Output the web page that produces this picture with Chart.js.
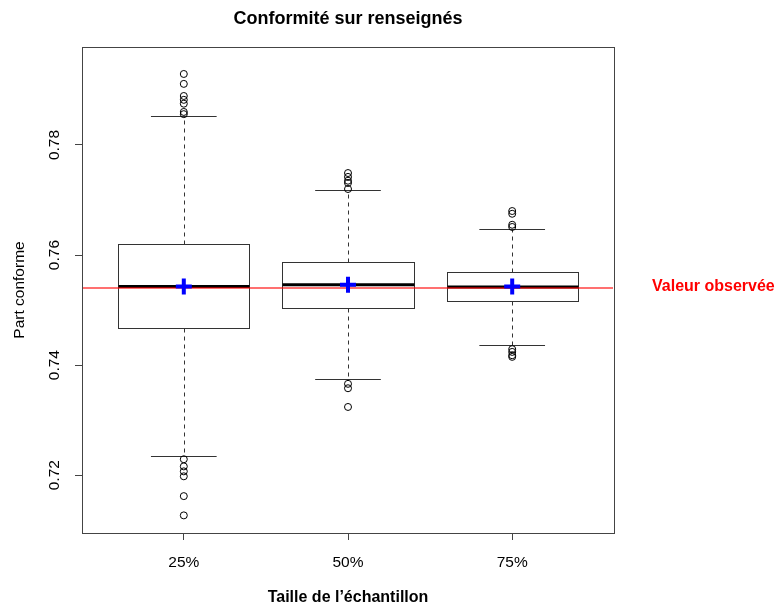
<!DOCTYPE html>
<html>
<head>
<meta charset="utf-8">
<script src="https://cdn.jsdelivr.net/npm/chart.js@4/dist/chart.umd.min.js"></script>
<style>
  body { margin: 0; background: #fff; }
  canvas { display: block; }
</style>
</head>
<body>
<canvas id="boxChart" width="778" height="605"></canvas>
<script>
// valeurs
var categories = ["25%", "50%", "75%"];
var q1 = [0.7467, 0.7504, 0.7516];
var medians = [0.7543, 0.7546, 0.7542];
var q3 = [0.7620, 0.7587, 0.7569];
var whiskerLow = [0.7235, 0.7375, 0.7436];
var whiskerHigh = [0.7853, 0.7718, 0.7647];
var means = [0.7543, 0.7546, 0.7543];
var outliers = [
  [0.7929, 0.7911, 0.7889, 0.7882, 0.7875, 0.7860, 0.7856, 0.7229, 0.7216, 0.7207, 0.7198, 0.7162, 0.7127],
  [0.7749, 0.7742, 0.7735, 0.7731, 0.7720, 0.7366, 0.7358, 0.7324],
  [0.7680, 0.7675, 0.7655, 0.7651, 0.7429, 0.7424, 0.7418, 0.7415]
];
var observed = 0.7542;
var yTicks = [0.72, 0.74, 0.76, 0.78];

var FONT = "'Liberation Sans', Arial, sans-serif";

var outlierPts = [];
outliers.forEach(function(list, i){
  list.forEach(function(v){ outlierPts.push({x: i + 1, y: v}); });
});
var meanPts = means.map(function(v, i){ return {x: i + 1, y: v}; });

var boxPlugin = {
  id: 'boxes',
  beforeDatasetsDraw: function(chart){
    var ctx = chart.ctx, xs = chart.scales.x, ys = chart.scales.y, a = chart.chartArea;
    ctx.save();
    for (var i = 0; i < categories.length; i++) {
      var c = xs.getPixelForValue(i + 1);
      var l = Math.round(xs.getPixelForValue(i + 1 - 0.4)) + 0.5;
      var r = Math.round(xs.getPixelForValue(i + 1 + 0.4)) + 0.5;
      var cl = xs.getPixelForValue(i + 1 - 0.2), cr = xs.getPixelForValue(i + 1 + 0.2);
      var cx = Math.round(c) + 0.5;
      var yq1 = Math.round(ys.getPixelForValue(q1[i])) + 0.5;
      var yq3 = Math.round(ys.getPixelForValue(q3[i])) + 0.5;
      var ylo = Math.round(ys.getPixelForValue(whiskerLow[i])) + 0.5;
      var yhi = Math.round(ys.getPixelForValue(whiskerHigh[i])) + 0.5;
      // moustaches
      ctx.strokeStyle = '#333';
      ctx.lineWidth = 1;
      ctx.setLineDash([4, 4]);
      ctx.beginPath();
      ctx.moveTo(cx, yq3); ctx.lineTo(cx, yhi);
      ctx.moveTo(cx, yq1); ctx.lineTo(cx, ylo);
      ctx.stroke();
      ctx.setLineDash([]);
      ctx.beginPath();
      ctx.moveTo(cl, yhi); ctx.lineTo(cr, yhi);
      ctx.moveTo(cl, ylo); ctx.lineTo(cr, ylo);
      ctx.stroke();
      // boite
      ctx.fillStyle = '#fff';
      ctx.fillRect(l, yq3, r - l, yq1 - yq3);
      ctx.strokeRect(l, yq3, r - l, yq1 - yq3);
      // mediane
      ctx.strokeStyle = '#000';
      ctx.lineWidth = 3;
      ctx.beginPath();
      var ym = ys.getPixelForValue(medians[i]);
      ctx.moveTo(l, ym); ctx.lineTo(r, ym);
      ctx.stroke();
    }
    // cadre
    ctx.lineWidth = 1;
    ctx.strokeStyle = '#444';
    ctx.strokeRect(Math.round(a.left) + 0.5, Math.round(a.top) + 0.5,
                   Math.round(a.right - a.left), Math.round(a.bottom - a.top));
    // valeur observee
    var yo = Math.round(ys.getPixelForValue(observed)) + 1;
    ctx.beginPath();
    ctx.strokeStyle = 'rgba(255,0,0,0.75)';
    ctx.lineWidth = 1.4;
    ctx.moveTo(a.left + 1, yo); ctx.lineTo(a.right - 1, yo);
    ctx.stroke();
    ctx.fillStyle = '#ff0000';
    ctx.font = 'bold 16px ' + FONT;
    ctx.textAlign = 'left';
    ctx.textBaseline = 'middle';
    ctx.fillText('Valeur observée', a.right + 38, yo - 1.5);
    // titre
    ctx.fillStyle = '#000';
    ctx.font = 'bold 18px ' + FONT;
    ctx.textAlign = 'center';
    ctx.fillText('Conformité sur renseignés', (a.left + a.right) / 2, 19);
    ctx.restore();
  }
};

var ctxB = document.getElementById("boxChart").getContext('2d');
var boxChart = new Chart(ctxB, {
  type: 'scatter',
  data: {
    datasets: [{
      label: 'outliers',
      data: outlierPts,
      pointStyle: 'circle',
      pointRadius: 3.5,
      pointBorderWidth: 1,
      borderColor: '#000',
      backgroundColor: 'rgba(0,0,0,0)'
    }, {
      label: 'moyenne',
      data: meanPts,
      pointStyle: 'cross',
      pointRadius: 8,
      pointBorderWidth: 4,
      borderColor: '#0000ff',
      backgroundColor: '#0000ff'
    }]
  },
  options: {
    responsive: false,
    animation: false,
    layout: { padding: { top: 47, right: 164, left: 0, bottom: 0 } },
    plugins: { legend: { display: false }, tooltip: { enabled: false } },
    scales: {
      x: {
        type: 'linear',
        min: 0.38, max: 3.62,
        afterBuildTicks: function(s){ s.ticks = [1, 2, 3].map(function(v){ return {value: v}; }); },
        afterFit: function(s){ s.height = 72; },
        grid: { drawOnChartArea: false, tickLength: 7, color: '#444' },
        border: { display: false },
        ticks: {
          color: '#000', padding: 13, maxRotation: 0,
          font: { family: FONT, size: 15.5 },
          callback: function(v){ return categories[v - 1]; }
        },
        title: {
          display: true, text: 'Taille de l’échantillon', color: '#000',
          font: { family: FONT, size: 16, weight: 'bold' },
          padding: { top: 0, bottom: -2 }
        }
      },
      y: {
        min: 0.7095, max: 0.7978,
        afterBuildTicks: function(s){ s.ticks = yTicks.map(function(v){ return {value: v}; }); },
        afterFit: function(s){ s.width = 82; },
        grid: { drawOnChartArea: false, tickLength: 7, color: '#444' },
        border: { display: false },
        ticks: {
          color: '#000', padding: 5, minRotation: 90, maxRotation: 90, crossAlign: 'center',
          font: { family: FONT, size: 15.5 },
          callback: function(v){ return v.toFixed(2); }
        },
        title: {
          display: true, text: 'Part conforme', color: '#000',
          font: { family: FONT, size: 15.5 },
          padding: { top: 10, bottom: 0 }
        }
      }
    }
  },
  plugins: [boxPlugin]
});
</script>
</body>
</html>
